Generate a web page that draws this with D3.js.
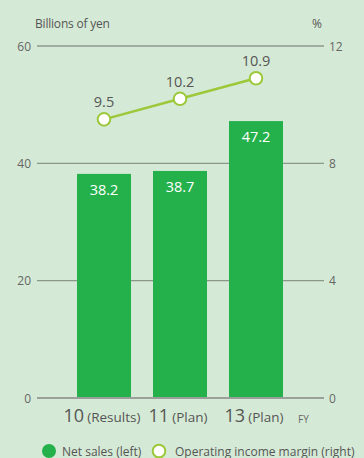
<!DOCTYPE html>
<html>
<head>
<meta charset="utf-8">
<script src="https://cdn.jsdelivr.net/npm/d3@7/dist/d3.min.js"></script>
<style>
  html, body { margin: 0; padding: 0; background: #d5ead6; }
  svg { display: block; font-family: "Open Sans", "Noto Sans", sans-serif; }
</style>
</head>
<body>
<script>
// Fiscal years and their status
const years = ["10", "11", "13"];
const yearNotes = ["(Results)", "(Plan)", "(Plan)"];
// Net sales, billions of yen (left axis)
const netSales = [38.2, 38.7, 47.2];
// Operating income margin, % (right axis)
const margin = [9.5, 10.2, 10.9];
// Axis ticks
const leftTicks = [0, 20, 40, 60];
const rightTicks = [0, 4, 8, 12];

const W = 364, H = 458;
const plot = { left: 37, right: 324, top: 46, bottom: 398 };

const svg = d3.select("body").append("svg")
  .attr("width", W).attr("height", H);

svg.append("rect").attr("width", W).attr("height", H).attr("fill", "#d5ead6");

// Category centres on a 76px step
const x = d3.scalePoint().domain(years).range([104, 256]);
const bw = 54;

const yL = d3.scaleLinear().domain([0, 60]).range([plot.bottom, plot.top]);
const yR = d3.scaleLinear().domain([0, 12]).range([plot.bottom, plot.top]);

// Grid lines
svg.append("g").selectAll("line")
  .data(leftTicks.filter(d => d !== 0))
  .join("line")
  .attr("x1", plot.left).attr("x2", plot.right)
  .attr("y1", d => yL(d)).attr("y2", d => yL(d))
  .attr("stroke", "#8c978c").attr("stroke-width", 1.3);

// Left tick labels
svg.append("g").selectAll("text")
  .data(leftTicks)
  .join("text")
  .attr("x", 31).attr("y", d => yL(d) + 4.5)
  .attr("text-anchor", "end")
  .attr("font-size", 12).attr("fill", "#666")
  .text(d => d);

// Right tick labels
svg.append("g").selectAll("text")
  .data(rightTicks)
  .join("text")
  .attr("x", 329).attr("y", d => yR(d) + 4.5)
  .attr("text-anchor", "start")
  .attr("font-size", 12).attr("fill", "#666")
  .text(d => d);

// Unit captions
svg.append("text").attr("x", 35).attr("y", 28)
  .attr("font-size", 12).attr("fill", "#555").attr("letter-spacing", -0.2)
  .text("Billions of yen");
svg.append("text").attr("x", 312).attr("y", 28)
  .attr("font-size", 12).attr("fill", "#555")
  .text("%");

// Bars
svg.append("g").selectAll("rect")
  .data(netSales)
  .join("rect")
  .attr("x", (d, i) => x(years[i]) - bw / 2)
  .attr("width", bw)
  .attr("y", d => yL(d))
  .attr("height", d => yL(0) - yL(d))
  .attr("fill", "#24b14c");

// Bar value labels
svg.append("g").selectAll("text")
  .data(netSales)
  .join("text")
  .attr("x", (d, i) => x(years[i]))
  .attr("y", d => yL(d) + 21)
  .attr("text-anchor", "middle")
  .attr("font-size", 14.5).attr("fill", "#fff")
  .text(d => d.toFixed(1));

// Zero baseline
svg.append("line")
  .attr("x1", plot.left).attr("x2", plot.right)
  .attr("y1", yL(0)).attr("y2", yL(0))
  .attr("stroke", "#9a9f9a").attr("stroke-width", 2.2);

// Margin line
const line = d3.line()
  .x((d, i) => x(years[i]))
  .y(d => yR(d));
svg.append("path")
  .datum(margin)
  .attr("d", line)
  .attr("fill", "none")
  .attr("stroke", "#9cc83a")
  .attr("stroke-width", 2.5);

svg.append("g").selectAll("circle")
  .data(margin)
  .join("circle")
  .attr("cx", (d, i) => x(years[i]))
  .attr("cy", d => yR(d))
  .attr("r", 6.3)
  .attr("fill", "#fff")
  .attr("stroke", "#9cc83a")
  .attr("stroke-width", 2);

svg.append("g").selectAll("text")
  .data(margin)
  .join("text")
  .attr("x", (d, i) => x(years[i]))
  .attr("y", d => yR(d) - 12)
  .attr("text-anchor", "middle")
  .attr("font-size", 14.5).attr("fill", "#555")
  .text(d => d.toFixed(1));

// Category labels
const cat = svg.append("g").selectAll("text")
  .data(years)
  .join("text")
  .attr("x", d => x(d) - 2)
  .attr("y", 422)
  .attr("text-anchor", "middle")
  .attr("fill", "#555");
cat.append("tspan").attr("font-size", 18).text(d => d);
cat.append("tspan").attr("font-size", 13.5).attr("dx", 3).text((d, i) => yearNotes[i]);

svg.append("text").attr("x", 298).attr("y", 423)
  .attr("font-size", 10).attr("fill", "#666")
  .text("FY");

// Legend
svg.append("circle").attr("cx", 49).attr("cy", 451).attr("r", 7).attr("fill", "#24b14c");
svg.append("text").attr("x", 62).attr("y", 455.5)
  .attr("font-size", 12).attr("fill", "#555")
  .text("Net sales (left)");
svg.append("circle").attr("cx", 159).attr("cy", 451).attr("r", 6.3)
  .attr("fill", "#fff").attr("stroke", "#9cc83a").attr("stroke-width", 2);
svg.append("text").attr("x", 175).attr("y", 455.5)
  .attr("font-size", 12).attr("fill", "#555")
  .text("Operating income margin (right)");
</script>
</body>
</html>
